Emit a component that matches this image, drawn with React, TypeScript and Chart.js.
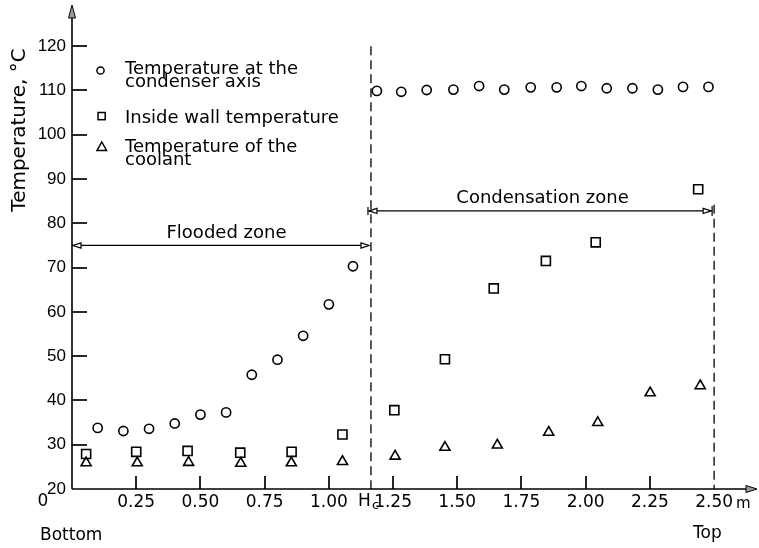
import React, { useEffect, useRef } from "react";
import { Chart, registerables } from "chart.js";

Chart.register(...registerables);

// ---- axis constants ----
const HC = 1.164;
const X_MIN = 0;
const X_MAX = 2.667;
const Y_MIN = 20;
const Y_MAX = 129.3;

// ---- data (height in m, temperature in °C) ----
const axisX = [0.1, 0.2, 0.3, 0.4, 0.5, 0.6, 0.7, 0.8, 0.9, 1.0, 1.094, 1.187, 1.282, 1.381, 1.485, 1.585, 1.683, 1.786, 1.887, 1.983, 2.082, 2.182, 2.281, 2.379, 2.478];
const axisT = [33.8, 33.1, 33.6, 34.8, 36.8, 37.3, 45.8, 49.2, 54.6, 61.7, 70.3, 109.9, 109.7, 110.1, 110.2, 111.0, 110.2, 110.7, 110.7, 111.0, 110.5, 110.5, 110.2, 110.8, 110.8];

const wallX = [0.055, 0.25, 0.45, 0.655, 0.855, 1.053, 1.255, 1.452, 1.642, 1.845, 2.039, 2.438];
const wallT = [27.9, 28.4, 28.6, 28.2, 28.4, 32.3, 37.8, 49.3, 65.3, 71.5, 75.7, 87.7];

const coolX = [0.055, 0.254, 0.454, 0.657, 0.854, 1.053, 1.258, 1.452, 1.656, 1.856, 2.047, 2.251, 2.446];
const coolT = [25.9, 25.9, 26.0, 25.8, 25.9, 26.2, 27.4, 29.4, 29.9, 32.8, 35.0, 41.7, 43.3];

// ---- ticks & labels ----
const yTicks = [20, 30, 40, 50, 60, 70, 80, 90, 100, 110, 120];
const xTicks = [0, 0.25, 0.5, 0.75, 1.0, HC, 1.25, 1.5, 1.75, 2.0, 2.25, 2.5];
const xTickLabels = ["", "0.25", "0.50", "0.75", "1.00", "", "1.25", "1.50", "1.75", "2.00", "2.25", "2.50"];
const xTickMarks = [0.25, 0.5, 0.75, 1.0, 1.25, 1.5, 1.75, 2.0, 2.25];

const seriesNames = ["Temperature at the condenser axis", "Inside wall temperature", "Temperature of the coolant"];
const legendLines = [["Temperature at the", "condenser axis"], ["Inside wall temperature"], ["Temperature of the", "coolant"]];
const yTitle = "Temperature, °C";
const floodedLabel = "Flooded zone";
const condLabel = "Condensation zone";
const FLOOD_Y = 75;
const COND_Y = 82.8;
const HC_LINE_TOP = 120;
const TOP_LINE_TOP = 84.2;

const FONT = '"DejaVu Sans", sans-serif';

function drawOpenHead(ctx: CanvasRenderingContext2D, tipX: number, y: number, dir: number) {
  const len = 8, hh = 2.6;
  ctx.beginPath();
  ctx.moveTo(tipX, y);
  ctx.lineTo(tipX - dir * len, y - hh);
  ctx.lineTo(tipX - dir * len, y + hh);
  ctx.closePath();
  ctx.fillStyle = "#fff";
  ctx.fill();
  ctx.stroke();
}

const overlay = {
  id: "overlay",
  afterDraw(chart: any) {
    const ctx: CanvasRenderingContext2D = chart.ctx;
    const xs = chart.scales.x, ys = chart.scales.y;
    const px = (v: number) => xs.getPixelForValue(v);
    const py = (v: number) => ys.getPixelForValue(v);
    const x0 = px(X_MIN), y0 = py(Y_MIN);
    const top = py(Y_MAX), right = px(X_MAX);
    ctx.save();
    ctx.setLineDash([]);
    ctx.strokeStyle = "#000";
    ctx.fillStyle = "#000";
    // axes
    ctx.lineWidth = 1.6;
    ctx.beginPath(); ctx.moveTo(x0, y0); ctx.lineTo(x0, top + 12); ctx.stroke();
    ctx.beginPath(); ctx.moveTo(x0, y0); ctx.lineTo(right - 9, y0); ctx.stroke();
    // ticks (inward)
    ctx.lineWidth = 1.7;
    for (const v of yTicks) {
      if (v === Y_MIN) continue;
      const yy = Math.round(py(v));
      ctx.beginPath(); ctx.moveTo(x0, yy); ctx.lineTo(x0 + 15, yy); ctx.stroke();
    }
    for (const v of xTickMarks) {
      const xx = Math.round(px(v));
      ctx.beginPath(); ctx.moveTo(xx, y0); ctx.lineTo(xx, y0 - 13); ctx.stroke();
    }
    // arrowheads
    ctx.lineWidth = 1;
    ctx.fillStyle = "#9a9a9a";
    ctx.beginPath(); ctx.moveTo(x0, top); ctx.lineTo(x0 - 3.5, top + 13); ctx.lineTo(x0 + 3.5, top + 13); ctx.closePath(); ctx.fill(); ctx.stroke();
    ctx.beginPath(); ctx.moveTo(right, y0); ctx.lineTo(right - 11, y0 - 3.5); ctx.lineTo(right - 11, y0 + 3.5); ctx.closePath(); ctx.fill(); ctx.stroke();
    // dashed lines
    ctx.setLineDash([9, 5]);
    ctx.lineWidth = 1.3;
    ctx.beginPath(); ctx.moveTo(px(HC), py(HC_LINE_TOP)); ctx.lineTo(px(HC), y0); ctx.stroke();
    ctx.beginPath(); ctx.moveTo(px(2.5), py(TOP_LINE_TOP)); ctx.lineTo(px(2.5), y0); ctx.stroke();
    ctx.setLineDash([]);
    // zone dimension arrows
    ctx.lineWidth = 1.2;
    ctx.strokeStyle = "#000";
    const fy = py(FLOOD_Y);
    ctx.beginPath(); ctx.moveTo(x0, fy); ctx.lineTo(px(HC) - 2, fy); ctx.stroke();
    drawOpenHead(ctx, x0 + 1, fy, -1);
    drawOpenHead(ctx, px(HC) - 2, fy, 1);
    const cy = py(COND_Y);
    ctx.beginPath(); ctx.moveTo(px(HC) - 2, cy); ctx.lineTo(px(2.5) - 3, cy); ctx.stroke();
    drawOpenHead(ctx, px(HC) - 2, cy, -1);
    drawOpenHead(ctx, px(2.5) - 3, cy, 1);
    ctx.beginPath(); ctx.moveTo(px(HC) - 3, cy - 4); ctx.lineTo(px(HC) - 3, cy + 4); ctx.stroke();
    ctx.beginPath(); ctx.moveTo(px(2.5) - 2, cy - 5); ctx.lineTo(px(2.5) - 2, cy + 5); ctx.stroke();

    // texts
    ctx.fillStyle = "#000";
    ctx.textBaseline = "alphabetic";
    ctx.font = `18px ${FONT}`;
    ctx.textAlign = "center";
    ctx.fillText(floodedLabel, (x0 + px(HC)) / 2 + 5, fy - 7);
    ctx.fillText(condLabel, (px(HC) + px(2.5)) / 2, cy - 8);

    // legend
    ctx.textAlign = "left";
    ctx.font = `18px ${FONT}`;
    const lx = 125;
    ctx.lineWidth = 1.5;
    ctx.strokeStyle = "#000";
    ctx.beginPath(); ctx.arc(100.5, 70.5, 3.6, 0, Math.PI * 2); ctx.stroke();
    ctx.fillText(legendLines[0][0], lx, 74);
    ctx.fillText(legendLines[0][1], lx, 87);
    ctx.strokeRect(98, 112.5, 7.2, 7.2);
    ctx.fillText(legendLines[1][0], lx, 122.5);
    ctx.beginPath(); ctx.moveTo(101.8, 142); ctx.lineTo(106.6, 150.5); ctx.lineTo(97, 150.5); ctx.closePath(); ctx.stroke();
    ctx.fillText(legendLines[2][0], lx, 151.5);
    ctx.fillText(legendLines[2][1], lx, 164.5);

    // y title
    ctx.save();
    ctx.translate(25, 130);
    ctx.rotate(-Math.PI / 2);
    ctx.textAlign = "center";
    ctx.font = `20px ${FONT}`;
    ctx.fillText(yTitle, 0, 0);
    ctx.restore();

    // x-axis special labels
    ctx.font = `17px ${FONT}`;
    ctx.textAlign = "center";
    ctx.fillText("0", 43, 506);
    ctx.textAlign = "left";
    ctx.fillText("H", px(HC) - 13, 506);
    ctx.font = `13px ${FONT}`;
    ctx.fillText("c", px(HC) + 1, 509);
    ctx.font = `15px ${FONT}`;
    ctx.fillText("m", 736, 508);
    ctx.font = `17px ${FONT}`;
    ctx.fillText("Bottom", 40, 540);
    ctx.fillText("Top", 693, 538);
    ctx.restore();
  },
};

export default function App() {
  const ref = useRef<HTMLCanvasElement>(null);
  useEffect(() => {
    if (!ref.current) return;
    const mk = (xs: number[], ys: number[]) => xs.map((x, i) => ({ x, y: ys[i] }));
    const chart = new Chart(ref.current, {
      type: "scatter",
      data: {
        datasets: [
          { label: seriesNames[0], data: mk(axisX, axisT), pointStyle: "circle", pointRadius: 4.6, borderColor: "#000", backgroundColor: "rgba(0,0,0,0)", borderWidth: 1.6 },
          { label: seriesNames[1], data: mk(wallX, wallT), pointStyle: "rect", pointRadius: 6.4, borderColor: "#000", backgroundColor: "rgba(0,0,0,0)", borderWidth: 1.6 },
          { label: seriesNames[2], data: mk(coolX, coolT), pointStyle: "triangle", pointRadius: 5.8, borderColor: "#000", backgroundColor: "rgba(0,0,0,0)", borderWidth: 1.6 },
        ],
      },
      options: {
        animation: false,
        responsive: true,
        maintainAspectRatio: false,
        layout: { autoPadding: false, padding: { top: 5, right: 2, left: 0, bottom: 0 } },
        plugins: { legend: { display: false }, tooltip: { enabled: false } },
        scales: {
          x: {
            type: "linear",
            min: X_MIN,
            max: X_MAX,
            grid: { display: false, drawTicks: false },
            border: { display: false },
            afterFit: (s: any) => { s.height = 59; s.paddingLeft = 0; s.paddingRight = 0; },
            afterBuildTicks: (s: any) => { s.ticks = xTicks.map((v) => ({ value: v })); },
            ticks: {
              autoSkip: false,
              maxRotation: 0,
              padding: 3,
              color: "#000",
              font: { family: "DejaVu Sans", size: 17 },
              callback: (_v: any, i: number) => xTickLabels[i],
            },
          },
          y: {
            type: "linear",
            min: Y_MIN,
            max: Y_MAX,
            grid: { display: false, drawTicks: false },
            border: { display: false },
            afterFit: (s: any) => { s.width = 72; s.paddingTop = 0; s.paddingBottom = 0; },
            afterBuildTicks: (s: any) => { s.ticks = yTicks.map((v) => ({ value: v })); },
            ticks: {
              padding: 6,
              color: "#000",
              font: { family: "Liberation Sans", size: 17 },
              callback: (v: any) => String(v),
            },
          },
        },
      },
      plugins: [overlay],
    });
    return () => chart.destroy();
  }, []);
  return (
    <div style={{ position: "fixed", left: 0, top: 0, width: 759, height: 548, background: "#fff" }}>
      <canvas ref={ref} />
    </div>
  );
}
